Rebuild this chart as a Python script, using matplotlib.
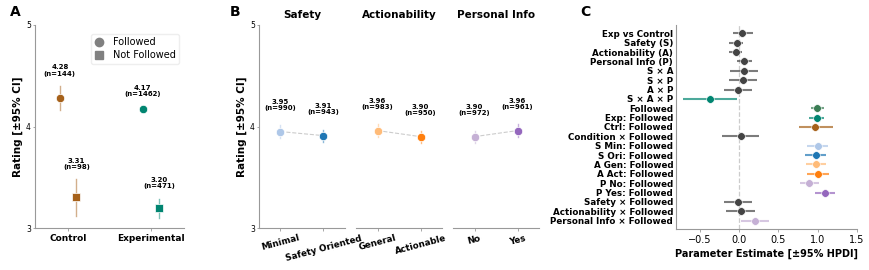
import numpy as np
import matplotlib.pyplot as plt
from matplotlib.lines import Line2D

plt.rcParams["font.family"] = "DejaVu Sans"

# ── panel A: rating by condition and whether advice was followed ──────────────
conditions = ["Control", "Experimental"]
cond_colors = ["#a6611a", "#018571"]
fol_mean = [4.28, 4.17]
fol_lo = [4.16, 4.14]
fol_hi = [4.40, 4.20]
fol_n = [144, 1462]
nfol_mean = [3.31, 3.20]
nfol_lo = [3.12, 3.10]
nfol_hi = [3.48, 3.29]
nfol_n = [98, 471]

# ── panel B: rating by factor level ───────────────────────────────────────────
factors = ["Safety", "Actionability", "Personal Info"]
levels = [["Minimal", "Safety Oriented"], ["General", "Actionable"], ["No", "Yes"]]
lvl_mean = [[3.95, 3.91], [3.96, 3.90], [3.90, 3.96]]
lvl_lo = [[3.89, 3.85], [3.90, 3.84], [3.84, 3.90]]
lvl_hi = [[4.01, 3.97], [4.02, 3.96], [3.96, 4.02]]
lvl_n = [[990, 943], [983, 950], [972, 961]]
lvl_colors = [["#aec7e8", "#1f77b4"], ["#ffbb78", "#ff7f0e"], ["#c5b0d5", "#9467bd"]]

# ── panel C: posterior parameter estimates ────────────────────────────────────
params = ["Exp vs Control", "Safety (S)", "Actionability (A)", "Personal Info (P)",
          "S × A", "S × P", "A × P", "S × A × P", "Followed", "Exp: Followed",
          "Ctrl: Followed", "Condition × Followed", "S Min: Followed",
          "S Ori: Followed", "A Gen: Followed", "A Act: Followed", "P No: Followed",
          "P Yes: Followed", "Safety × Followed", "Actionability × Followed",
          "Personal Info × Followed"]
est = [0.04, -0.03, -0.04, 0.06, 0.07, 0.05, -0.01, -0.37, 0.99, 0.99,
       0.97, 0.02, 1.00, 0.98, 0.98, 1.00, 0.89, 1.09, -0.01, 0.02, 0.20]
est_lo = [-0.08, -0.13, -0.13, -0.03, -0.11, -0.13, -0.19, -0.71, 0.91, 0.89,
          0.76, -0.21, 0.87, 0.84, 0.85, 0.86, 0.77, 0.96, -0.19, -0.16, 0.02]
est_hi = [0.18, 0.05, 0.04, 0.16, 0.24, 0.23, 0.16, -0.03, 1.08, 1.08,
          1.20, 0.26, 1.13, 1.11, 1.11, 1.14, 1.02, 1.22, 0.16, 0.21, 0.38]
DG = "#444444"
est_colors = [DG, DG, DG, DG, DG, DG, DG, "#018571", "#3b7d55", "#018571",
              "#a6611a", DG, "#aec7e8", "#1f77b4", "#ffbb78", "#ff7f0e",
              "#c5b0d5", "#9467bd", DG, DG, "#c5b0d5"]

SPINE = "#999999"


def style(ax, left=True):
    for s in ["top", "right"]:
        ax.spines[s].set_visible(False)
    for s in ["left", "bottom"]:
        ax.spines[s].set_color(SPINE)
        ax.spines[s].set_linewidth(0.8)
    if not left:
        ax.spines["left"].set_visible(False)
    ax.tick_params(colors=SPINE, labelcolor="black", labelsize=7, length=2,
                   width=0.6, pad=2)


fig = plt.figure(figsize=(8.7, 2.7), dpi=100)
H = 270.0
W = 870.0


def box(x0, x1, y0, y1):
    return [x0 / W, (H - y1) / H, (x1 - x0) / W, (y1 - y0) / H]


# ── A ─────────────────────────────────────────────────────────────────────────
axA = fig.add_axes(box(35, 184, 25, 228))
style(axA)
for i, c in enumerate(cond_colors):
    for off, m, lo, hi, n, mk in [(-0.1, fol_mean, fol_lo, fol_hi, fol_n, "o"),
                                  (0.1, nfol_mean, nfol_lo, nfol_hi, nfol_n, "s")]:
        x = i + off
        axA.plot([x, x], [lo[i], hi[i]], color=c, alpha=0.5, lw=1)
        axA.plot(x, m[i], marker=mk, color=c, ms=6, mec="white", mew=0.5)
        axA.text(x, hi[i] + 0.09, f"{m[i]:.2f}\n(n={n[i]})", ha="center", va="bottom",
                 fontsize=5, fontweight="bold", linespacing=1.1)
axA.set_xlim(-0.4, 1.4)
axA.set_ylim(3, 5)
axA.set_yticks([3, 4, 5])
axA.tick_params(axis="y", labelsize=5.5, length=1.5, pad=1.5)
axA.set_xticks([0, 1])
axA.set_xticklabels(conditions, fontweight="bold", fontsize=6.5)
axA.set_ylabel("Rating [±95% CI]", fontsize=7.5, fontweight="bold", labelpad=2)
handles = [Line2D([], [], marker="o", color="#808080", ls="", ms=6),
           Line2D([], [], marker="s", color="#808080", ls="", ms=6)]
axA.legend(handles, ["Followed", "Not Followed"], loc="upper right", fontsize=7,
           frameon=True, framealpha=1, edgecolor="#eeeeee", borderpad=0.35,
           labelspacing=0.3, handlelength=1.0, handletextpad=0.9,
           bbox_to_anchor=(1.0, 0.98))
fig.text(10 / W, 1 - 12 / H, "A", fontsize=10, fontweight="bold", va="center")

# ── B ─────────────────────────────────────────────────────────────────────────
b_x = [(259, 345), (356, 442), (453, 539)]
for k, (x0, x1) in enumerate(b_x):
    ax = fig.add_axes(box(x0, x1, 25, 228))
    style(ax, left=(k == 0))
    xs = [0, 1]
    ax.plot(xs, lvl_mean[k], color="#cccccc", ls="--", lw=0.8, zorder=1)
    for j in range(2):
        c = lvl_colors[k][j]
        ax.plot([j, j], [lvl_lo[k][j], lvl_hi[k][j]], color=c, alpha=0.5, lw=1)
        ax.plot(j, lvl_mean[k][j], "o", color=c, ms=6, mec="white", mew=0.5, zorder=3)
        ax.text(j, lvl_mean[k][j] + 0.2, f"{lvl_mean[k][j]:.2f}\n(n={lvl_n[k][j]})",
                ha="center", va="bottom", fontsize=5, fontweight="bold", linespacing=1.1)
    ax.set_xlim(-0.5, 1.5)
    ax.set_ylim(3, 5)
    ax.set_xticks(xs)
    ax.set_xticklabels(levels[k], rotation=15, ha="center", fontweight="bold", fontsize=6.3)
    ax.set_title(factors[k], fontsize=7.5, fontweight="bold", pad=5)
    if k == 0:
        ax.set_yticks([3, 4, 5])
        ax.tick_params(axis="y", labelsize=5.5, length=1.5, pad=1.5)
        ax.set_ylabel("Rating [±95% CI]", fontsize=7.5, fontweight="bold", labelpad=2)
    else:
        ax.set_yticks([])
fig.text(230 / W, 1 - 12 / H, "B", fontsize=10, fontweight="bold", va="center")

# ── C ─────────────────────────────────────────────────────────────────────────
axC = fig.add_axes(box(676, 857, 25, 229))
style(axC)
ys = np.arange(len(params))
axC.axvline(0, color="#cccccc", ls="--", lw=0.9, zorder=0)
for y, e, lo, hi, c in zip(ys, est, est_lo, est_hi, est_colors):
    axC.plot([lo, hi], [y, y], color=c, alpha=0.7, lw=1.5, solid_capstyle="butt")
    axC.plot(e, y, "o", color=c, ms=5.5, mec="white", mew=0.4, zorder=3)
axC.set_ylim(len(params) - 0.1, -0.9)
axC.set_xlim(-0.8, 1.5)
axC.set_xticks([-0.5, 0, 0.5, 1.0, 1.5])
axC.set_yticks(ys)
axC.set_yticklabels(params, fontweight="bold", fontsize=6.3)
axC.tick_params(axis="y", length=0, pad=2)
axC.set_xlabel("Parameter Estimate [±95% HPDI]", fontsize=7, fontweight="bold", labelpad=3)
fig.text(580 / W, 1 - 12 / H, "C", fontsize=10, fontweight="bold", va="center")

fig.savefig("out.png", dpi=100)
